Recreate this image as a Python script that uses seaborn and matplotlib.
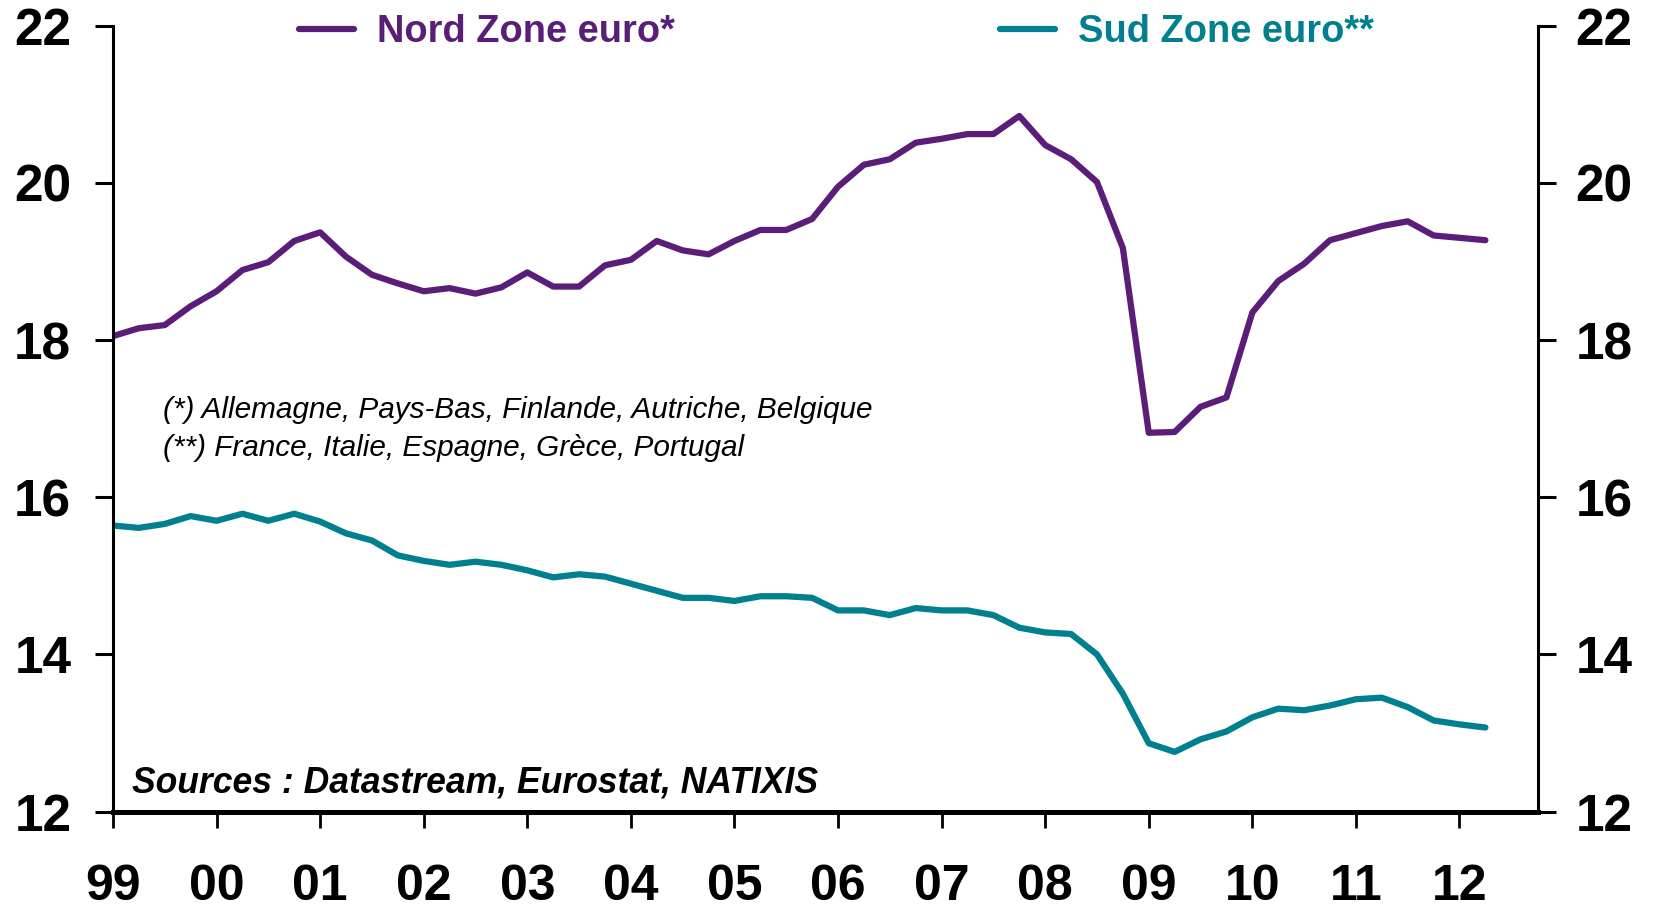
import numpy as np
import pandas as pd
import matplotlib
matplotlib.use("Agg")
import matplotlib.pyplot as plt
import seaborn as sns

# -------------------------
# Data (quarterly, 1999Q1 - 2012Q2)
# -------------------------
quarters = pd.period_range("1999Q1", "2012Q2", freq="Q")

nord = [18.05, 18.15, 18.19, 18.43,
        18.62, 18.89, 18.99, 19.26,
        19.37, 19.06, 18.83, 18.72,
        18.62, 18.66, 18.59, 18.67,
        18.86, 18.68, 18.68, 18.95,
        19.02, 19.26, 19.14, 19.09,
        19.26, 19.40, 19.40, 19.54,
        19.95, 20.23, 20.30, 20.51,
        20.56, 20.62, 20.62, 20.85,
        20.48, 20.30, 20.01, 19.17,
        16.82, 16.83, 17.15, 17.27,
        18.35, 18.75, 18.97, 19.27,
        19.36, 19.45, 19.51, 19.33,
        19.30, 19.27]

sud = [15.64, 15.61, 15.66, 15.76,
       15.70, 15.79, 15.70, 15.79,
       15.69, 15.54, 15.45, 15.26,
       15.19, 15.14, 15.18, 15.14,
       15.07, 14.98, 15.02, 14.99,
       14.90, 14.81, 14.72, 14.72,
       14.68, 14.74, 14.74, 14.72,
       14.56, 14.56, 14.50, 14.59,
       14.56, 14.56, 14.50, 14.34,
       14.28, 14.26, 14.00, 13.50,
       12.87, 12.76, 12.92, 13.02,
       13.20, 13.31, 13.29, 13.35,
       13.43, 13.45, 13.33, 13.16,
       13.11, 13.07]

series_names = ["Nord Zone euro*", "Sud Zone euro**"]
colors = ["#5b1e78", "#00808f"]
year_ticks = list(range(1999, 2013))
year_labels = [f"{y % 100:02d}" for y in year_ticks]
y_ticks = [12, 14, 16, 18, 20, 22]

# long format for seaborn
t = quarters.year + (quarters.quarter - 1) / 4
df = pd.DataFrame({
    "t": np.concatenate([t, t]),
    "value": nord + sud,
    "serie": [series_names[0]] * len(nord) + [series_names[1]] * len(sud),
})

# -------------------------
# Plot
# -------------------------
sns.set_theme(style="white")
plt.rcParams["font.family"] = ["Liberation Sans", "DejaVu Sans"]
plt.rcParams["text.color"] = "black"

fig = plt.figure(figsize=(16.54, 9.14), dpi=100)
ax = fig.add_axes([0.0683, 0.112, 0.8617, 0.860])

sns.lineplot(data=df, x="t", y="value", hue="serie", palette=colors,
             linewidth=4.5, ax=ax, legend=False)

ax.set_xlim(1999, 2012.76)
ax.set_ylim(12, 22)
ax.set_xlabel("")
ax.set_ylabel("")

ax.spines["top"].set_visible(False)
for s in ["left", "right"]:
    ax.spines[s].set_linewidth(2.2)
    ax.spines[s].set_color("black")
ax.spines["bottom"].set_linewidth(3.6)
ax.spines["bottom"].set_color("black")

ax.set_xticks(year_ticks)
ax.set_xticklabels(year_labels, fontsize=36, fontweight="bold")
ax.tick_params(axis="x", bottom=True, direction="out", length=11.5, width=2,
               pad=26, colors="black")

ax.set_yticks(y_ticks)
ax.set_yticklabels([str(v) for v in y_ticks], fontsize=37, fontweight="bold")
ax.tick_params(axis="y", left=True, direction="out", length=13, width=2.2,
               pad=17, colors="black")

# right axis, same scale
ax2 = ax.twinx()
ax2.set_ylim(12, 22)
ax2.set_yticks(y_ticks)
ax2.set_yticklabels([str(v) for v in y_ticks], fontsize=37, fontweight="bold")
ax2.tick_params(axis="y", right=True, direction="out", length=13, width=2.2,
                pad=14, colors="black")
for s in ["top", "left", "bottom", "right"]:
    ax2.spines[s].set_visible(False)
ax2.grid(False)
ax.grid(False)

# legend at the top
handles = [plt.Line2D([], [], color=c, lw=4.5) for c in colors]
leg = fig.legend(handles, series_names, loc="center left",
                 bbox_to_anchor=(0.1805, 0.965), ncol=2, frameon=False,
                 fontsize=27.4, handlelength=1.45, handletextpad=0.6,
                 columnspacing=8.55, borderpad=0, borderaxespad=0)
for txt, c in zip(leg.get_texts(), colors):
    txt.set_color(c)
    txt.set_fontweight("bold")

# notes
fig.text(0.0988, 1 - 409.5 / 914, "(*) Allemagne, Pays-Bas, Finlande, Autriche, Belgique",
         fontsize=21.4, style="italic", va="center", ha="left", color="black")
fig.text(0.0988, 1 - 448.5 / 914, "(**) France, Italie, Espagne, Grèce, Portugal",
         fontsize=21.4, style="italic", va="center", ha="left", color="black")
fig.text(0.0798, 1 - 783 / 914, "Sources : Datastream, Eurostat, NATIXIS",
         fontsize=25.6, style="italic", fontweight="bold", va="center", ha="left",
         color="black")

fig.savefig("out.png", dpi=100)
